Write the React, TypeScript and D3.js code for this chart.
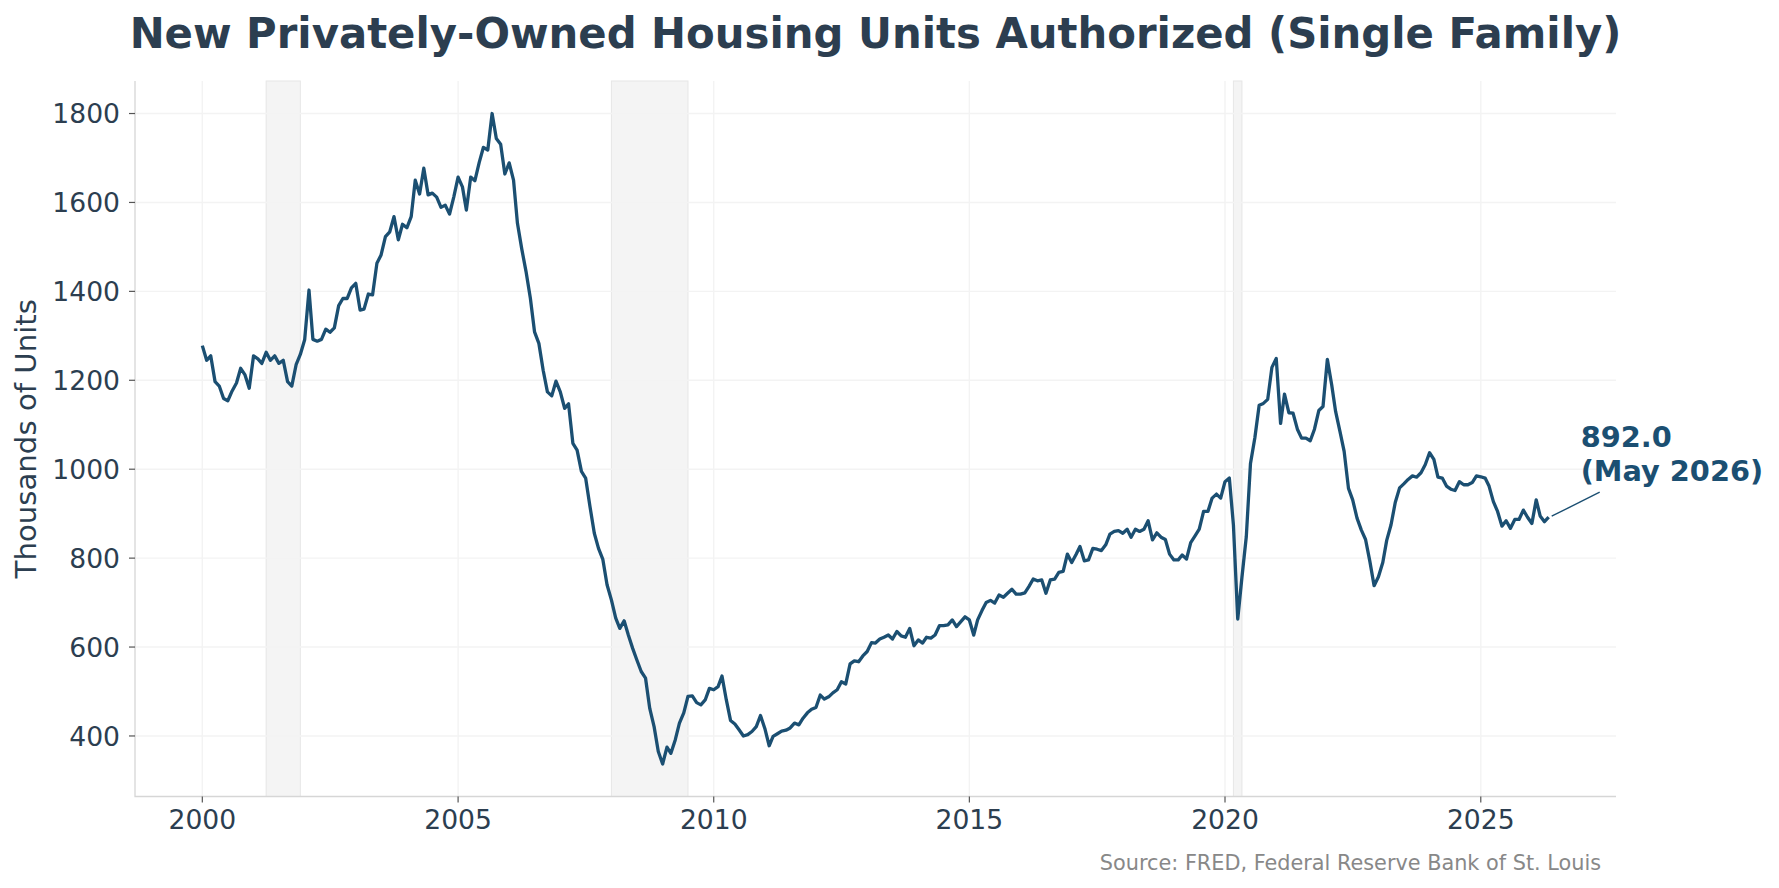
import * as d3 from "d3";
import { useEffect, useRef } from "react";

// Single-family permits, thousands of units (SAAR), monthly from Jan 2000
const startYear = 2000;

const permits2000s = [
  1278, 1245, 1255, 1197, 1187, 1159, 1154, 1176, 1194, 1227, 1212, 1182, // 2000
  1255, 1248, 1238, 1263, 1245, 1255, 1238, 1245, 1197, 1187, 1235, 1258, // 2001
  1291, 1403, 1292, 1288, 1292, 1315, 1308, 1318, 1368, 1384, 1384, 1408, // 2002
  1418, 1358, 1360, 1394, 1392, 1463, 1482, 1523, 1534, 1568, 1516, 1551, // 2003
  1543, 1568, 1650, 1619, 1677, 1617, 1621, 1612, 1589, 1594, 1574, 1612, // 2004
  1657, 1635, 1583, 1657, 1649, 1690, 1724, 1718, 1800, 1744, 1731, 1664, // 2005
  1689, 1650, 1553, 1495, 1445, 1385, 1309, 1283, 1222, 1174, 1165, 1198, // 2006
  1174, 1137, 1147, 1058, 1043, 995, 980, 916, 856, 822, 797, 740, // 2007
  706, 665, 642, 659, 627, 597, 571, 545, 530, 462, 421, 365, // 2008
  337, 375, 361, 391, 429, 452, 489, 490, 475, 470, 481, 507, // 2009
];

const permits2010s = [
  504, 511, 535, 481, 435, 427, 414, 400, 403, 410, 421, 446, // 2010
  417, 378, 399, 405, 411, 413, 418, 429, 425, 440, 452, 460, // 2011
  464, 492, 483, 488, 497, 504, 522, 517, 562, 569, 567, 580, // 2012
  590, 610, 609, 618, 622, 627, 618, 635, 625, 622, 642, 603, // 2013
  616, 609, 622, 620, 627, 648, 648, 650, 661, 646, 657, 668, // 2014
  661, 627, 661, 682, 700, 705, 699, 717, 712, 721, 730, 719, // 2015
  719, 722, 736, 753, 749, 751, 721, 751, 753, 768, 770, 809, // 2016
  790, 808, 826, 794, 796, 822, 820, 817, 830, 854, 860, 862, // 2017
  856, 865, 847, 865, 860, 865, 884, 841, 857, 847, 842, 809, // 2018
  796, 796, 807, 798, 835, 850, 865, 905, 905, 935, 944, 935, // 2019
];

const permits2020s = [
  972, 980, 875, 663, 757, 848, 1013, 1070, 1144, 1148, 1157, 1229, // 2020
  1249, 1103, 1169, 1127, 1126, 1090, 1070, 1070, 1064, 1090, 1132, 1141, // 2021
  1247, 1190, 1130, 1085, 1040, 957, 931, 890, 863, 842, 792, 738, // 2022
  758, 790, 840, 875, 925, 958, 967, 977, 985, 982, 992, 1010, // 2023
  1037, 1022, 982, 980, 962, 955, 952, 972, 965, 965, 970, 985, // 2024
  983, 980, 962, 927, 905, 872, 884, 867, 887, 887, 908, 892, // 2025
  878, 931, 895, 882, 892, // 2026
];

// NBER recessions as first month / month after
const recessions = [
  { start: "2001-04", end: "2001-12" },
  { start: "2008-01", end: "2009-07" },
  { start: "2020-03", end: "2020-05" },
];

const yTicks = [400, 600, 800, 1000, 1200, 1400, 1600, 1800];
const xTickYears = [2000, 2005, 2010, 2015, 2020, 2025];

const title = "New Privately-Owned Housing Units Authorized (Single Family)";
const yLabel = "Thousands of Units";
const sourceNote = "Source: FRED, Federal Reserve Bank of St. Louis";

const W = 1779;
const H = 888;
const FONT = "'DejaVu Sans', sans-serif";
const DARK = "#2c3e50";
const LINE = "#1b4f72";

const parseMonth = d3.timeParse("%Y-%m");

export default function App() {
  const ref = useRef<SVGSVGElement>(null);

  useEffect(() => {
    if (!ref.current) return;
    const svg = d3.select(ref.current);
    svg.selectAll("*").remove();

    const data = [...permits2000s, ...permits2010s, ...permits2020s].map(
      (v, i) => ({ date: new Date(startYear, i, 1), value: v })
    );

    const left = 135;
    const right = 1616;
    const top = 81;
    const bottom = 796.5;

    // matplotlib-like 5% margins
    const [d0, d1] = d3.extent(data, (d) => d.date) as [Date, Date];
    const padX = (d1.getTime() - d0.getTime()) * 0.05;
    const x = d3
      .scaleTime()
      .domain([new Date(d0.getTime() - padX), new Date(d1.getTime() + padX)])
      .range([left, right]);

    const [v0, v1] = d3.extent(data, (d) => d.value) as [number, number];
    const padY = (v1 - v0) * 0.05;
    const y = d3
      .scaleLinear()
      .domain([v0 - padY, v1 + padY])
      .range([bottom, top]);

    // recession bands
    svg
      .append("g")
      .selectAll("rect")
      .data(recessions)
      .join("rect")
      .attr("x", (d) => x(parseMonth(d.start)!))
      .attr("width", (d) => x(parseMonth(d.end)!) - x(parseMonth(d.start)!))
      .attr("y", top)
      .attr("height", bottom - top)
      .attr("fill", "#f4f4f4")
      .attr("stroke", "#e6e6e6")
      .attr("stroke-width", 1);

    // grid
    const grid = svg.append("g").attr("stroke", "#f3f3f3").attr("stroke-width", 1.4);
    grid
      .selectAll("line.h")
      .data(yTicks)
      .join("line")
      .attr("class", "h")
      .attr("x1", left)
      .attr("x2", right)
      .attr("y1", (d) => y(d))
      .attr("y2", (d) => y(d));
    grid
      .selectAll("line.v")
      .data(xTickYears)
      .join("line")
      .attr("class", "v")
      .attr("x1", (d) => x(new Date(d, 0, 1)))
      .attr("x2", (d) => x(new Date(d, 0, 1)))
      .attr("y1", top)
      .attr("y2", bottom);

    // spines
    svg
      .append("path")
      .attr("d", `M${left},${top}V${bottom}H${right}`)
      .attr("fill", "none")
      .attr("stroke", "#d6d6d6")
      .attr("stroke-width", 1.3);

    // y ticks
    const yt = svg
      .append("g")
      .selectAll("g")
      .data(yTicks)
      .join("g")
      .attr("transform", (d) => `translate(${left},${y(d)})`);
    yt.append("line").attr("x1", -6).attr("x2", 0).attr("stroke", "#555").attr("stroke-width", 1.2);
    yt.append("text")
      .attr("x", -15)
      .attr("dy", "0.36em")
      .attr("text-anchor", "end")
      .attr("font-family", FONT)
      .attr("font-size", 26.6)
      .attr("fill", DARK)
      .text((d) => d);

    // x ticks
    const xt = svg
      .append("g")
      .selectAll("g")
      .data(xTickYears)
      .join("g")
      .attr("transform", (d) => `translate(${x(new Date(d, 0, 1))},${bottom})`);
    xt.append("line").attr("y1", 0).attr("y2", 6).attr("stroke", "#555").attr("stroke-width", 1.2);
    xt.append("text")
      .attr("y", 32)
      .attr("text-anchor", "middle")
      .attr("font-family", FONT)
      .attr("font-size", 26.6)
      .attr("fill", DARK)
      .text((d) => d);

    // series
    const line = d3
      .line<{ date: Date; value: number }>()
      .x((d) => x(d.date))
      .y((d) => y(d.value));
    svg
      .append("path")
      .datum(data)
      .attr("fill", "none")
      .attr("stroke", LINE)
      .attr("stroke-width", 3.3)
      .attr("stroke-linejoin", "round")
      .attr("d", line);

    // last value annotation
    const last = data[data.length - 1];
    const px = x(last.date);
    const py = y(last.value);
    svg
      .append("line")
      .attr("x1", px + 3)
      .attr("y1", py - 1)
      .attr("x2", px + 51)
      .attr("y2", py - 25)
      .attr("stroke", LINE)
      .attr("stroke-width", 1.4);
    const ann = svg
      .append("text")
      .attr("font-family", FONT)
      .attr("font-size", 28.8)
      .attr("font-weight", "bold")
      .attr("fill", LINE);
    ann.append("tspan").attr("x", px + 32).attr("y", py - 70).text(last.value.toFixed(1));
    ann
      .append("tspan")
      .attr("x", px + 32)
      .attr("y", py - 36)
      .text(`(${d3.timeFormat("%b %Y")(last.date)})`);

    // title, axis label, source
    svg
      .append("text")
      .attr("x", (left + right) / 2)
      .attr("y", 48)
      .attr("text-anchor", "middle")
      .attr("font-family", FONT)
      .attr("font-size", 41.8)
      .attr("font-weight", "bold")
      .attr("fill", DARK)
      .text(title);

    svg
      .append("text")
      .attr("transform", `translate(36,${(top + bottom) / 2}) rotate(-90)`)
      .attr("text-anchor", "middle")
      .attr("font-family", FONT)
      .attr("font-size", 29.2)
      .attr("fill", DARK)
      .text(yLabel);

    svg
      .append("text")
      .attr("x", 1601)
      .attr("y", 870)
      .attr("text-anchor", "end")
      .attr("font-family", FONT)
      .attr("font-size", 20.8)
      .attr("fill", "#888")
      .text(sourceNote);
  }, []);

  return (
    <svg
      ref={ref}
      width={W}
      height={H}
      style={{ position: "absolute", left: 0, top: 0, background: "#fff" }}
    />
  );
}
